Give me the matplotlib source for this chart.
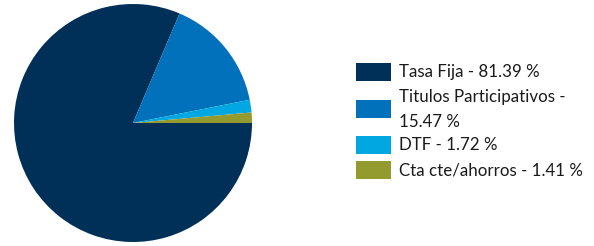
import matplotlib
matplotlib.use("Agg")
import matplotlib.pyplot as plt
from matplotlib.patches import Rectangle

categories = ["Tasa Fija", "Titulos Participativos", "DTF", "Cta cte/ahorros"]
values = [81.39, 15.47, 1.72, 1.41]
colors = ["#003057", "#0071BA", "#00A7E1", "#939A2E"]
legend_labels = ["Tasa Fija - 81.39 %", "Titulos Participativos -\n15.47 %",
                 "DTF - 1.72 %", "Cta cte/ahorros - 1.41 %"]

W, H = 594, 246
fig = plt.figure(figsize=(W / 100, H / 100), dpi=100)
fig.patch.set_facecolor("white")

# pie axes
ax = fig.add_axes([14 / W, 4 / H, 238 / W, 238 / H])
ax.pie(values, colors=colors, startangle=0, counterclock=False, radius=1.0,
       wedgeprops=dict(linewidth=0))
ax.set_xlim(-1, 1)
ax.set_ylim(-1, 1)
ax.set_aspect("equal")
ax.axis("off")

# legend overlay
lax = fig.add_axes([0, 0, 1, 1])
lax.set_xlim(0, W)
lax.set_ylim(H, 0)
lax.axis("off")
patch_y = [72, 109, 145, 170]
text_y = [72, 109.5, 145, 170]
for c, lab, py, ty in zip(colors, legend_labels, patch_y, text_y):
    lax.add_patch(Rectangle((356, py - 9), 35, 18, facecolor=c, edgecolor="none"))
    lax.text(399, ty, lab, fontsize=12.2, family="Lato", color="#1a1a1a",
             va="center", ha="left", linespacing=1.75)

fig.savefig("out.png", dpi=100, facecolor="white")
